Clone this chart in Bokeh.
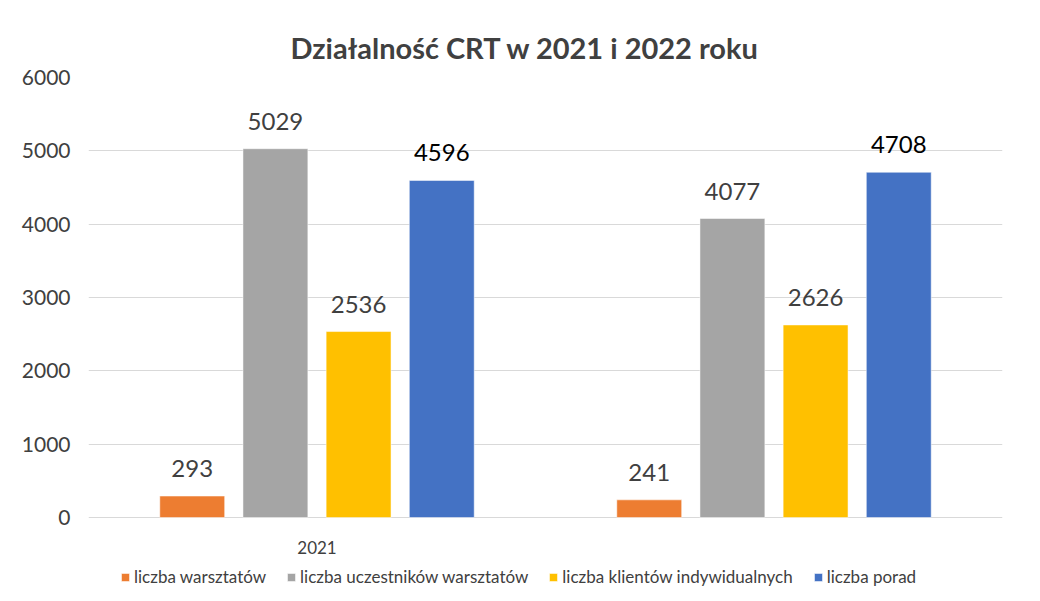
from bokeh.plotting import figure
from bokeh.models import Range1d, FixedTicker, Legend, LegendItem, LabelSet, ColumnDataSource
from bokeh.core.properties import value
from bokeh.embed import file_html
from bokeh.resources import INLINE

title_text = "Działalność CRT w 2021 i 2022 roku"
categories = ["2021", "2022"]
category_labels = ["2021", ""]
series_names = ["liczba warsztatów", "liczba uczestników warsztatów",
                "liczba klientów indywidualnych", "liczba porad"]
liczba_warsztatow = [293, 241]
liczba_uczestnikow = [5029, 4077]
liczba_klientow = [2536, 2626]
liczba_porad = [4596, 4708]
series_values = [liczba_warsztatow, liczba_uczestnikow, liczba_klientow, liczba_porad]
series_colors = ["#ED7D31", "#A5A5A5", "#FFC000", "#4472C4"]
label_colors = ["#404040", "#404040", "#404040", "#000000"]
y_ticks = [0, 1000, 2000, 3000, 4000, 5000, 6000]

FONT = "Lato"
offsets = [-0.273, -0.091, 0.091, 0.273]
bar_w = 0.142

# frame extends below 0 so the legend fits inside it (same scale: 440px per 6000)
p = figure(frame_width=914, frame_height=524, x_range=Range1d(0, len(categories)),
           y_range=Range1d(-1145, 6000), output_backend="svg", toolbar_location=None,
           min_border_left=88, min_border_right=38, min_border_top=77, min_border_bottom=0)
p.outline_line_color = None

p.title.text = title_text
p.title.align = "left"
p.title.text_font = FONT
p.title.text_font_size = "29px"
p.title.text_font_style = "bold"
p.title.text_color = "#404040"
p.title.offset = 202
p.title.standoff = 25

centers = [i + 0.5 for i in range(len(categories))]

items = []
for name, vals, col, off, lc in zip(series_names, series_values, series_colors, offsets, label_colors):
    xs = [c + off for c in centers]
    src = ColumnDataSource(dict(x=xs, top=vals, text=[str(v) for v in vals]))
    r = p.vbar(x="x", top="top", bottom=0, width=bar_w, source=src, fill_color=col,
               line_color="white", line_alpha=0.5, line_width=1)
    items.append(LegendItem(label=name, renderers=[r]))
    lbl = LabelSet(x="x", y="top", text="text", source=src, text_align="center",
                   text_baseline="alphabetic", y_offset=19, text_font=value(FONT),
                   text_font_size="24px", text_color=lc)
    p.add_layout(lbl)

# category labels under the groups
cat_src = ColumnDataSource(dict(x=centers, y=[0] * len(centers), text=category_labels))
p.add_layout(LabelSet(x="x", y="y", text="text", source=cat_src, text_align="center",
                      text_baseline="middle", y_offset=-30, text_font=value(FONT),
                      text_font_size="17px", text_color="#404040"))
p.xaxis.visible = False

p.yaxis.ticker = FixedTicker(ticks=y_ticks)
p.yaxis.axis_line_color = None
p.yaxis.major_tick_line_color = None
p.yaxis.minor_tick_line_color = None
p.yaxis.major_tick_out = 0
p.yaxis.minor_tick_out = 0
p.yaxis.major_label_standoff = 18
p.yaxis.major_label_text_font = FONT
p.yaxis.major_label_text_font_size = "21px"
p.yaxis.major_label_text_color = "#404040"

p.xgrid.grid_line_color = None
p.ygrid.ticker = FixedTicker(ticks=y_ticks)
p.ygrid.grid_line_color = "#d9d9d9"

legend = Legend(items=items, orientation="horizontal", location=(32, 14),
                label_text_font=FONT, label_text_font_size="17px",
                label_text_color="#404040", glyph_width=10, glyph_height=10,
                label_height=17, spacing=20, padding=0, margin=0,
                border_line_color=None, background_fill_alpha=0, label_standoff=4)
p.add_layout(legend, "center")

open("out.html", "w").write(file_html(p, INLINE))
